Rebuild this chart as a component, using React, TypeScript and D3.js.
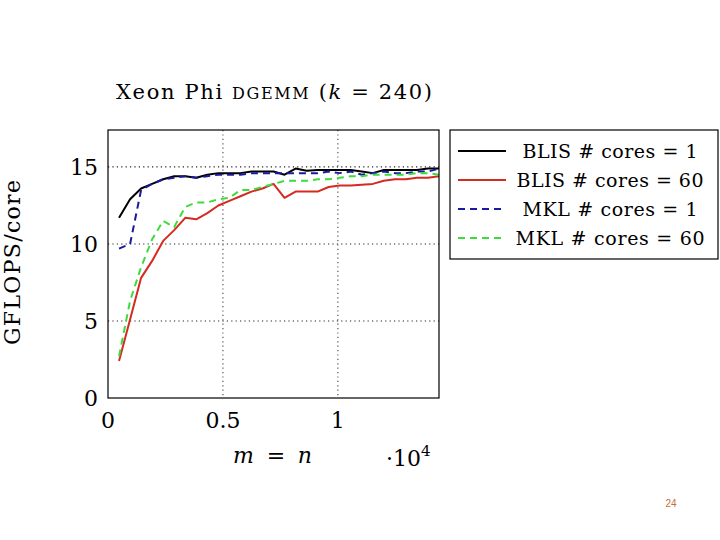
import * as d3 from 'd3';

// problem sizes m = n (step 480)
const sizes = d3.range(1, 31).map((i) => i * 480);

const blis1 = [11.7, 12.9, 13.6, 13.9, 14.2, 14.4, 14.4, 14.3, 14.5, 14.6, 14.6, 14.6, 14.7, 14.7, 14.7, 14.5, 14.9, 14.75, 14.8, 14.8, 14.8, 14.8, 14.7, 14.6, 14.8, 14.8, 14.8, 14.8, 14.9, 14.9];
const blis60 = [2.4, 5.1, 7.8, 8.9, 10.2, 10.9, 11.7, 11.6, 12.0, 12.5, 12.8, 13.1, 13.4, 13.6, 13.9, 13.0, 13.4, 13.4, 13.4, 13.7, 13.8, 13.8, 13.85, 13.9, 14.1, 14.2, 14.2, 14.3, 14.3, 14.4];
const mkl1 = [9.7, 10.0, 13.5, 13.9, 14.2, 14.3, 14.4, 14.3, 14.4, 14.5, 14.5, 14.5, 14.6, 14.6, 14.6, 14.6, 14.6, 14.6, 14.6, 14.7, 14.6, 14.7, 14.5, 14.6, 14.7, 14.6, 14.6, 14.7, 14.7, 14.9];
const mkl60 = [2.7, 6.3, 8.5, 10.3, 11.5, 11.1, 12.4, 12.7, 12.7, 12.9, 13.0, 13.5, 13.5, 13.7, 13.9, 14.1, 14.1, 14.1, 14.2, 14.2, 14.3, 14.4, 14.4, 14.5, 14.5, 14.5, 14.5, 14.6, 14.6, 14.5];

const yTicks = [0, 5, 10, 15];
const xTicks = [0, 5000, 10000];
const xTickLabels = ['0', '0.5', '1'];

const series = [
  { name: 'BLIS', cores: '1', values: blis1, color: '#000000', dash: null, w: 175 },
  { name: 'BLIS', cores: '60', values: blis60, color: '#d42a20', dash: null, w: 187 },
  { name: 'MKL', cores: '1', values: mkl1, color: '#1a1a9e', dash: '7,5', w: 175 },
  { name: 'MKL', cores: '60', values: mkl60, color: '#3ddc3d', dash: '7,5', w: 189 },
];

const font = '"DejaVu Serif", "Liberation Serif", serif';

export default function App() {
  const left = 108, right = 439, top = 130, bottom = 398;
  const x = d3.scaleLinear().domain([0, 14400]).range([left, right]);
  const y = d3.scaleLinear().domain([0, 17.4]).range([bottom, top]);

  const line = d3
    .line<number>()
    .x((_, i) => x(sizes[i]))
    .y((d) => y(d));

  const legX = 450, legY = 130, legW = 268, legH = 129;

  return (
    <>
      <style>{'body{margin:0}'}</style>
      <svg width={720} height={540} style={{ display: 'block', fontFamily: font }}>
        <rect width={720} height={540} fill="#fff" />

        {/* title */}
        <text x={116} y={99} fontSize={21} textLength={316} lengthAdjust="spacing">
          Xeon Phi <tspan fontSize={16}>DGEMM</tspan> (<tspan fontStyle="italic">k</tspan> = 240)
        </text>

        {/* grid */}
        {yTicks.filter((t) => t > 0).map((t) => (
          <line key={'gy' + t} x1={left} x2={right} y1={y(t)} y2={y(t)} stroke="#222" strokeWidth={1.2} strokeDasharray="1.2,3.2" />
        ))}
        {xTicks.filter((t) => t > 0).map((t) => (
          <line key={'gx' + t} x1={x(t)} x2={x(t)} y1={top} y2={bottom} stroke="#555" strokeWidth={1.2} strokeDasharray="1.2,3.2" />
        ))}

        {/* series */}
        {series.map((s, i) => (
          <path
            key={i}
            d={line(s.values) ?? ''}
            fill="none"
            stroke={s.color}
            strokeWidth={2}
            strokeDasharray={s.dash ?? undefined}
            strokeLinejoin="round"
          />
        ))}

        {/* frame */}
        <rect x={left} y={top} width={right - left} height={bottom - top} fill="none" stroke="#000" strokeWidth={1.2} />

        {/* tick labels */}
        {yTicks.map((t) => (
          <text key={'yl' + t} x={98} y={y(t) + 8} textAnchor="end" fontSize={22}>
            {t}
          </text>
        ))}
        {xTicks.map((t, i) => (
          <text key={'xl' + t} x={x(t)} y={428} textAnchor="middle" fontSize={22}>
            {xTickLabels[i]}
          </text>
        ))}

        {/* axis labels */}
        <text x={233} y={463} fontSize={22} textLength={79} lengthAdjust="spacing">
          <tspan fontStyle="italic">m</tspan> = <tspan fontStyle="italic">n</tspan>
        </text>
        <text x={386} y={466} fontSize={22}>
          ·10<tspan dy={-10} fontSize={15}>4</tspan>
        </text>
        <text transform="translate(20,345) rotate(-90)" fontSize={22} textLength={165} lengthAdjust="spacing">
          GFLOPS/core
        </text>

        {/* legend */}
        <rect x={legX} y={legY} width={legW} height={legH} fill="#fff" stroke="#000" strokeWidth={1.2} />
        {series.map((s, i) => {
          const cy = legY + 21 + i * 29;
          return (
            <g key={'lg' + i}>
              <line x1={458} x2={506} y1={cy} y2={cy} stroke={s.color} strokeWidth={2} strokeDasharray={s.dash ?? undefined} />
              <text x={610 - s.w / 2} y={cy + 7} fontSize={19} textLength={s.w} lengthAdjust="spacing">
                {s.name} # cores = {s.cores}
              </text>
            </g>
          );
        })}

        {/* page number */}
        <text x={671} y={507} textAnchor="middle" fontSize={10} fontFamily="Liberation Sans, sans-serif" fill="#c0703a">
          24
        </text>
      </svg>
    </>
  );
}
